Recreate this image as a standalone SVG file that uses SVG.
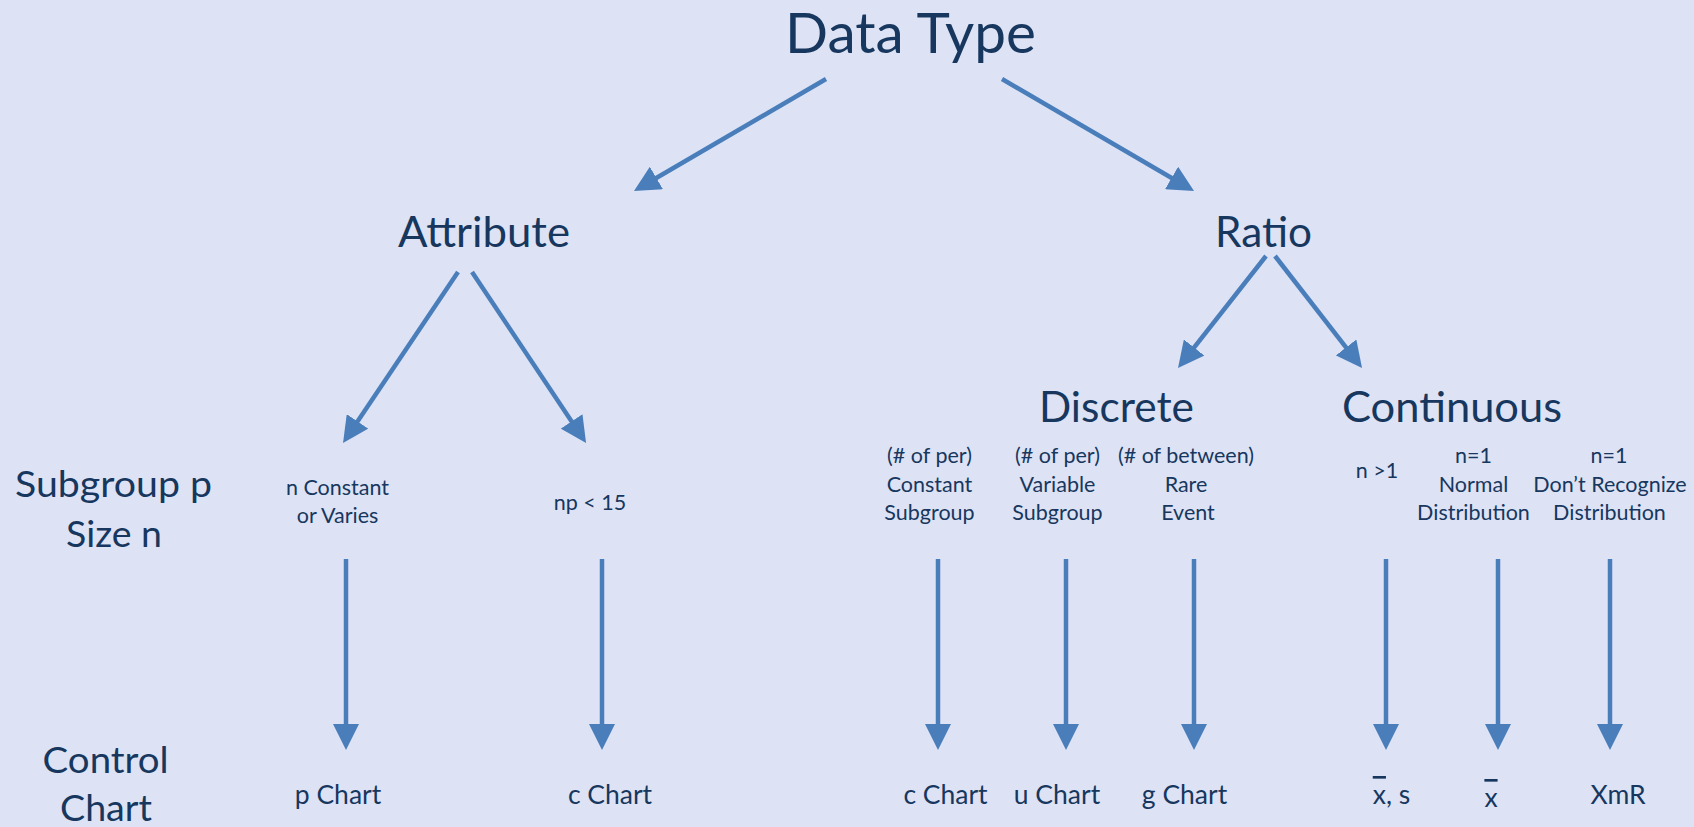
<svg xmlns="http://www.w3.org/2000/svg" width="1694" height="827" viewBox="0 0 1694 827">
  <defs>
    <marker id="arrow" markerUnits="userSpaceOnUse" markerWidth="26" markerHeight="26" viewBox="0 0 26 26" refX="16" refY="13" orient="auto">
      <path d="M0,0 L26,13 L0,26 z" fill="#4A7EBB"/>
    </marker>
    <style>
      text { font-family: Lato, "Liberation Sans", sans-serif; fill: #17375E; text-anchor: middle; }
      .t0 { font-size: 57px; }
      .t1 { font-size: 42.5px; }
      .t2 { font-size: 37px; }
      .t3 { font-size: 21.5px; }
      .t4 { font-size: 26.5px; }
      .bar { text-decoration: overline; }
      #connectors line { stroke: #4A7EBB; stroke-width: 4.5; marker-end: url(#arrow); }
    </style>
  </defs>

  <rect width="1694" height="827" fill="#DDE3F5"/>

  <!-- connectors -->
  <g id="connectors">
    <line x1="826" y1="79" x2="642.6" y2="186"/>
    <line x1="1002" y1="79" x2="1185.4" y2="186"/>
    <line x1="458" y1="272" x2="348.6" y2="434.7"/>
    <line x1="472" y1="272" x2="580.5" y2="434.7"/>
    <line x1="1266" y1="256" x2="1184.2" y2="360.1"/>
    <line x1="1275" y1="256" x2="1355.9" y2="360.1"/>
    <line x1="346" y1="559" x2="346" y2="740"/>
    <line x1="602" y1="559" x2="602" y2="740"/>
    <line x1="938" y1="559" x2="938" y2="740"/>
    <line x1="1066" y1="559" x2="1066" y2="740"/>
    <line x1="1194" y1="559" x2="1194" y2="740"/>
    <line x1="1386" y1="559" x2="1386" y2="740"/>
    <line x1="1498" y1="559" x2="1498" y2="740"/>
    <line x1="1610" y1="559" x2="1610" y2="740"/>
  </g>

  <!-- tree levels -->
  <g id="data-type"><text class="t0" x="910.5" y="53" textLength="251" lengthAdjust="spacingAndGlyphs">Data Type</text></g>
  <g id="attribute"><text class="t1" x="484" y="246.5" textLength="172" lengthAdjust="spacingAndGlyphs">Attribute</text></g>
  <g id="ratio"><text class="t1" x="1263.5" y="246.5" textLength="97" lengthAdjust="spacingAndGlyphs">Ratio</text></g>
  <g id="discrete"><text class="t1" x="1116.5" y="422" textLength="155" lengthAdjust="spacingAndGlyphs">Discrete</text></g>
  <g id="continuous"><text class="t1" x="1452" y="422" textLength="220" lengthAdjust="spacingAndGlyphs">Continuous</text></g>

  <!-- row headings -->
  <g id="row-subgroup">
    <text class="t2" x="113.5" y="497" textLength="197" lengthAdjust="spacingAndGlyphs">Subgroup p</text>
    <text class="t2" x="114" y="547" textLength="96" lengthAdjust="spacingAndGlyphs">Size n</text>
  </g>
  <g id="row-chart">
    <text class="t2" x="105.6" y="773" textLength="126" lengthAdjust="spacingAndGlyphs">Control</text>
    <text class="t2" x="106" y="821" textLength="92" lengthAdjust="spacingAndGlyphs">Chart</text>
  </g>

  <!-- subgroup conditions -->
  <g id="cond-p">
    <text class="t3" x="337.5" y="495">n Constant</text>
    <text class="t3" x="337.5" y="523">or Varies</text>
  </g>
  <g id="cond-c"><text class="t3" x="590" y="510">np &lt; 15</text></g>
  <g id="cond-c2">
    <text class="t3" x="929.5" y="463">(# of per)</text>
    <text class="t3" x="929.5" y="491.5">Constant</text>
    <text class="t3" x="929.5" y="520">Subgroup</text>
  </g>
  <g id="cond-u">
    <text class="t3" x="1057.5" y="463">(# of per)</text>
    <text class="t3" x="1057.5" y="491.5">Variable</text>
    <text class="t3" x="1057.5" y="520">Subgroup</text>
  </g>
  <g id="cond-g">
    <text class="t3" x="1186" y="463">(# of between)</text>
    <text class="t3" x="1186" y="491.5">Rare</text>
    <text class="t3" x="1188" y="520">Event</text>
  </g>
  <g id="cond-xs"><text class="t3" x="1377" y="478">n &gt;1</text></g>
  <g id="cond-x">
    <text class="t3" x="1473.5" y="463">n=1</text>
    <text class="t3" x="1473.5" y="491.5">Normal</text>
    <text class="t3" x="1473.5" y="520">Distribution</text>
  </g>
  <g id="cond-xmr">
    <text class="t3" x="1609" y="463">n=1</text>
    <text class="t3" x="1610" y="491.5">Don’t Recognize</text>
    <text class="t3" x="1609.5" y="520">Distribution</text>
  </g>

  <!-- resulting charts -->
  <g id="chart-p"><text class="t4" x="338" y="804">p Chart</text></g>
  <g id="chart-c"><text class="t4" x="610" y="804">c Chart</text></g>
  <g id="chart-c2"><text class="t4" x="945.5" y="804">c Chart</text></g>
  <g id="chart-u"><text class="t4" x="1057" y="804">u Chart</text></g>
  <g id="chart-g"><text class="t4" x="1184.5" y="804">g Chart</text></g>
  <g id="chart-xs"><text class="t4" x="1391.5" y="804"><tspan class="bar">x</tspan>, s</text></g>
  <g id="chart-x"><text class="t4" x="1491" y="807"><tspan class="bar">x</tspan></text></g>
  <g id="chart-xmr"><text class="t4" x="1618" y="804">XmR</text></g>
</svg>
